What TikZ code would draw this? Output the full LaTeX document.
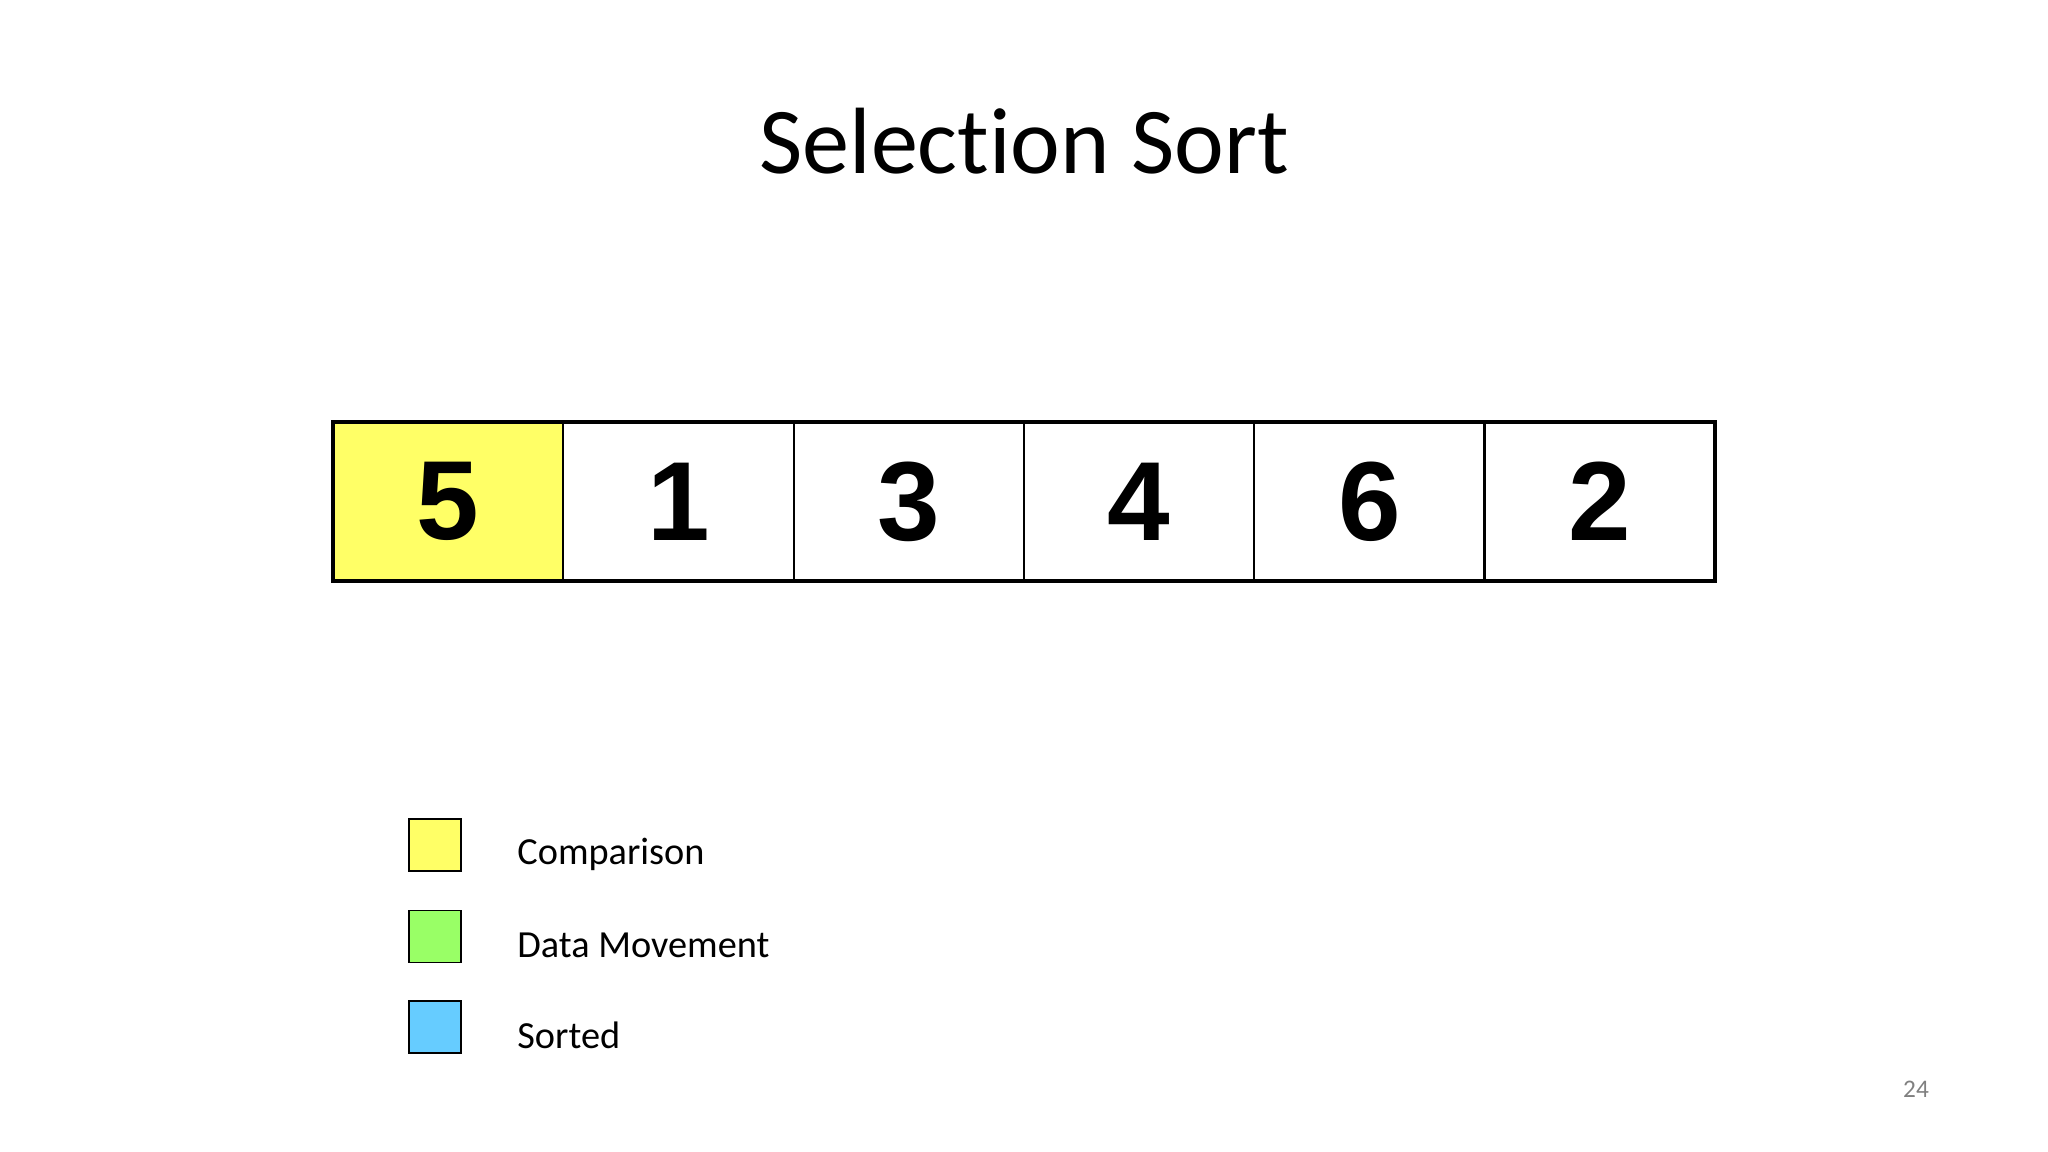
\documentclass[tikz,border=0pt]{standalone}
\usepackage{fontspec}
\usepackage{xcolor}
\usepackage{tikz}
\usetikzlibrary{positioning}

\setmainfont{Carlito}[Ligatures=NoCommon]
\newfontfamily\numfont{Liberation Sans}

\definecolor{cmpyellow}{HTML}{FFFF66}
\definecolor{movegreen}{HTML}{99FF66}
\definecolor{sortblue}{HTML}{66CCFF}

\begin{document}
\begin{tikzpicture}
\tikzset{cell/.style={draw=black,line width=0.6pt,fill=white,inner sep=0pt,outer sep=0pt,
		minimum width=2.303cm,minimum height=1.59cm,font=\numfont\bfseries\fontsize{32}{38}\selectfont},
	key/.style={draw=black,line width=0.4pt,inner sep=0pt,minimum size=0.52cm},
	keytext/.style={inner sep=0pt,font=\fontsize{10.9}{13}\selectfont}}

\useasboundingbox (0,0) rectangle (20.48,11.52);

\node[anchor=base,font=\fontsize{26.8}{32}\selectfont] (title) at (10.24,9.78) {Selection Sort};

% the array
\node[cell,fill=cmpyellow] (c1) at (4.482,6.505) {5};

\node[cell] (c2) [right = 0pt of c1] {1};

\node[cell] (c3) [right = 0pt of c2] {3};

\node[cell] (c4) [right = 0pt of c3] {4};

\node[cell] (c5) [right = 0pt of c4] {6};

\node[cell] (c6) [right = 0pt of c5] {2};

\draw[line width=1.2pt] (c1.north west) rectangle (c6.south east);

% legend
\node[key,fill=cmpyellow] (k1) at (4.35,3.07) {};

\node[key,fill=movegreen] (k2) [below = 0.38cm of k1] {};

\node[key,fill=sortblue] (k3) [below = 0.37cm of k2] {};

\node[keytext] (t1) [right = 0.55cm of k1, yshift=-0.09cm] {Comparison};

\node[keytext] (t2) [right = 0.55cm of k2, yshift=-0.09cm] {Data Movement};

\node[keytext] (t3) [right = 0.55cm of k3, yshift=-0.09cm] {Sorted};

\node[text=gray,font=\fontsize{7.2}{9}\selectfont] (page) at (19.16,0.63) {24};
\end{tikzpicture}
\end{document}
